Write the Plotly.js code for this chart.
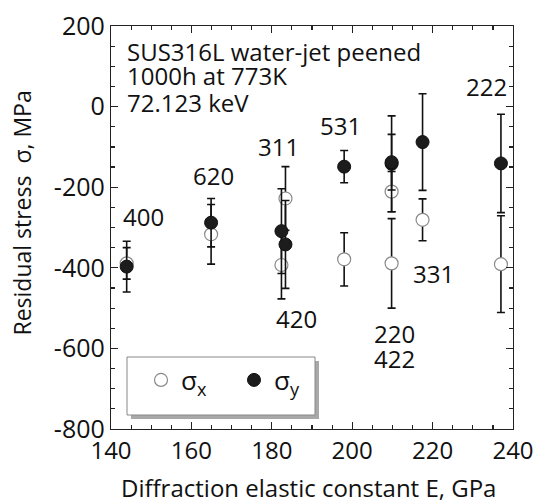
<!DOCTYPE html>
<html>
<head>
<meta charset="utf-8">
<script src="https://cdn.plot.ly/plotly-3.0.1.min.js"></script>
<style>html,body{margin:0;padding:0;background:#fff;}#chart{width:534px;height:503px;}</style>
</head>
<body>
<div id="chart"></div>
<script>
// Reflections (hkl) and diffraction elastic constants (GPa)
const hkl = ["400", "620", "311", "420", "531", "220", "422", "331", "222"];
const E = [143.9, 164.9, 183.4, 182.4, 198.0, 209.8, 209.8, 217.5, 237.0];
// Residual stress sigma_x (MPa) and its error
const sigmaX = [-389, -317, -228, -393, -379, -211, -389, -281, -391];
const sigmaXErr = [39, 74, 79, 84, 66, 50, 111, 52, 120];
// Residual stress sigma_y (MPa) and its error
const sigmaY = [-397, -288, -342, -309, -149, -142, -138, -88, -141];
const sigmaYErr = [63, 60, 109, 105, 40, 119, 69, 120, 122];
// Axis ticks
const xTicks = [140, 160, 180, 200, 220, 240];
const yTicks = [-800, -600, -400, -200, 0, 200];
// Header text lines
const headerLines = ["SUS316L water-jet peened", "1000h at 773K", "72.123 keV"];

const FONT = "Open Sans, Noto Sans, sans-serif";
const INK = "#111";

const traceX = {
  type: "scatter", mode: "markers", name: "σ<sub>x</sub>",
  x: E, y: sigmaX,
  error_y: {type: "data", array: sigmaXErr, visible: true, color: INK, thickness: 1.6, width: 4},
  marker: {symbol: "circle", size: 13, color: "#ffffff", line: {color: "#8a8a8a", width: 1.2}}
};
const traceY = {
  type: "scatter", mode: "markers", name: "σ<sub>y</sub>",
  x: E, y: sigmaY,
  error_y: {type: "data", array: sigmaYErr, visible: true, color: INK, thickness: 1.6, width: 4},
  marker: {symbol: "circle", size: 13, color: "#1c1c1c", line: {color: INK, width: 1}}
};

// hkl label placements (layout only)
const labelPos = {
  "400": [148.0, -273], "620": [165.5, -172], "311": [181.6, -99],
  "420": [186.2, -525], "531": [197.0, -46], "220": [210.5, -562],
  "422": [210.5, -624], "331": [220.2, -415], "222": [233.5, 49]
};
const annotations = hkl.map(h => ({
  x: labelPos[h][0], y: labelPos[h][1], xref: "x", yref: "y",
  text: h, showarrow: false, xanchor: "center", yanchor: "middle",
  font: {family: FONT, size: 24, color: INK}
}));
const headerY = [136, 77, 11];
headerLines.forEach((t, i) => annotations.push({
  x: 143.6, y: headerY[i], xref: "x", yref: "y", xanchor: "left", yanchor: "middle", align: "left",
  text: t, showarrow: false, font: {family: FONT, size: 24, color: INK}
}));
annotations.push({
  x: -0.221, y: 0.535, xref: "paper", yref: "paper", textangle: -90,
  xanchor: "center", yanchor: "middle", showarrow: false,
  text: "Residual stress  σ, MPa", font: {family: FONT, size: 23, color: INK}
});
annotations.push({
  x: 0.491, y: -0.144, xref: "paper", yref: "paper",
  xanchor: "center", yanchor: "middle", showarrow: false,
  text: "Diffraction elastic constant E, GPa", font: {family: FONT, size: 24, color: INK}
});

const axisCommon = {
  showgrid: false, zeroline: false, showline: true, linecolor: "#222", linewidth: 1.2,
  mirror: "ticks", ticks: "inside", ticklen: 7, tickwidth: 1.2, tickcolor: "#222",
  ticklabeloverflow: "allow",
  tickfont: {family: FONT, size: 24, color: INK}
};

const px2x = p => (p - 111) / 402;
const px2y = p => (429 - p) / 403;

const layout = {
  width: 534, height: 503,
  margin: {l: 111, r: 21, t: 26, b: 74},
  paper_bgcolor: "#fff", plot_bgcolor: "#fff",
  font: {family: FONT, color: INK},
  xaxis: Object.assign({}, axisCommon, {
    range: [140, 240], tickvals: xTicks, ticktext: xTicks.map(String),
    minor: {dtick: 5, ticks: "inside", ticklen: 4, tickcolor: "#222"}
  }),
  yaxis: Object.assign({}, axisCommon, {
    range: [-800, 200], tickvals: yTicks, ticktext: yTicks.map(String),
    tickfont: {family: FONT, size: 25, color: INK},
    minor: {dtick: 50, ticks: "inside", ticklen: 4, tickcolor: "#222"}
  }),
  showlegend: true,
  legend: {
    orientation: "h", x: px2x(141), y: px2y(380), xanchor: "left", yanchor: "middle",
    bgcolor: "rgba(0,0,0,0)", borderwidth: 0, entrywidth: 48, entrywidthmode: "pixels",
    font: {family: FONT, size: 26, color: INK}
  },
  shapes: [
    {type: "rect", xref: "paper", yref: "paper", layer: "above",
     x0: px2x(131), x1: px2x(319), y0: px2y(419), y1: px2y(361),
     fillcolor: "#a8a8a8", line: {width: 0}},
    {type: "rect", xref: "paper", yref: "paper", layer: "above",
     x0: px2x(127), x1: px2x(315), y0: px2y(415), y1: px2y(357),
     fillcolor: "#fff", line: {color: "#888", width: 1}}
  ],
  annotations: annotations
};

Plotly.newPlot("chart", [traceX, traceY], layout, {displayModeBar: false, staticPlot: true});
</script>
</body>
</html>
